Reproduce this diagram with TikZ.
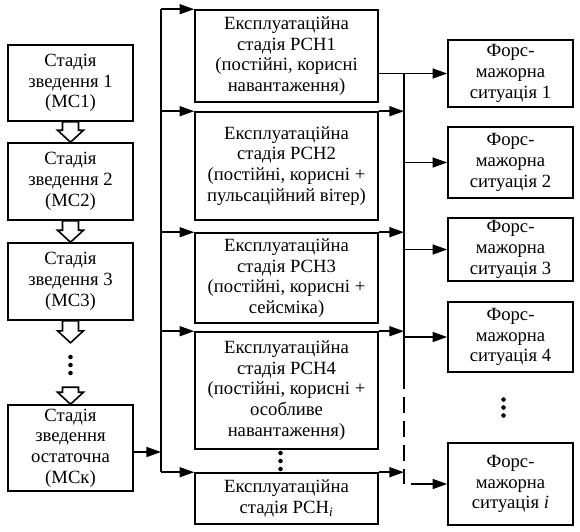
\documentclass[tikz,border=0pt]{standalone}
\usepackage{fontspec}
\setmainfont{Liberation Serif}
\usepackage{tikz}
\usetikzlibrary{arrows.meta,positioning,calc}

\begin{document}
\begin{tikzpicture}[
  x=0.75pt, y=-0.75pt,
  box/.style={rectangle, draw, line width=1.2pt, align=center, inner sep=1pt, font=\fontsize{14}{15.6}\selectfont},
  stage/.style={box, minimum width=93.75pt},
  load/.style={box, minimum width=137.25pt},
  force/.style={box, minimum width=93.75pt},
  arrow/.style={-{Triangle[length=11pt,width=7.5pt]}, line width=1.2pt},
  bus/.style={line width=1.2pt},
  hollow/.style={draw, line width=1.2pt, fill=white, line join=miter},
]
  \useasboundingbox (0,0) rectangle (580,531);
  % construction stages
  \node[stage, minimum height=57pt] (mc1) at (70.5,83) {Стадія\\зведення 1\\(МС1)};
  \node[stage, minimum height=57.75pt] (mc2) at (70.5,181.5) {Стадія\\зведення 2\\(МС2)};
  \node[stage, minimum height=57.75pt] (mc3) at (70.5,281.5) {Стадія\\зведення 3\\(МС3)};
  \node[stage, minimum height=64.5pt] (mck) at (70.5,448) {Стадія\\зведення\\остаточна\\(МСк)};
  % service stages
  \node[load, minimum height=69pt] (rch1) at (286.5,56) {Експлуатаційна\\стадія РСН1\\(постійні, корисні\\навантаження)};
  \node[load, minimum height=81pt] (rch2) at (286.5,166) {Експлуатаційна\\стадія РСН2\\(постійні, корисні +\\пульсаційний вітер)};
  \node[load, minimum height=67.5pt] (rch3) at (286.5,278) {Експлуатаційна\\стадія РСН3\\(постійні, корисні +\\сейсміка)};
  \node[load, minimum height=87.75pt] (rch4) at (286.5,390.5) {Експлуатаційна\\стадія РСН4\\(постійні, корисні +\\особливе\\навантаження)};
  \node[load, minimum height=38.25pt] (rchi) at (286.5,498.5) {Експлуатаційна\\стадія РСН\textsubscript{\textit{i}}};
  % force majeure
  \node[force, minimum height=50.25pt] (f1) at (510.5,73.5) {Форс-\\мажорна\\ситуація 1};
  \node[force, minimum height=53.25pt] (f2) at (510.5,162.5) {Форс-\\мажорна\\ситуація 2};
  \node[force, minimum height=47.25pt] (f3) at (510.5,249.5) {Форс-\\мажорна\\ситуація 3};
  \node[force, minimum height=52.5pt] (f4) at (510.5,337) {Форс-\\мажорна\\ситуація 4};
  \node[force, minimum height=61.5pt] (fi) at (510.5,484) {Форс-\\мажорна\\ситуація \textit{i}};

  \coordinate (gapa) at ($(mc3.south)+(0,22)$);
  \coordinate (gapb) at ($(mck.north)+(0,-17)$);
  \foreach \a/\b in {mc1.south/mc2.north, mc2.south/mc3.north, mc3.south/gapa, gapb/mck.north}
    \draw[hollow] ($(\a)+(-8,0)$) -- ($(\b)+(-8,-12)$) -- ($(\b)+(-13,-12)$) -- (\b)
      -- ($(\b)+(13,-12)$) -- ($(\b)+(8,-12)$) -- ($(\a)+(8,0)$) -- cycle;

  % dots
  \coordinate (dl) at ($(gapa)!0.5!(gapb)$);
  \coordinate (dm) at ($(rch4.south)!0.5!(rchi.north)+(-6,0)$);
  \coordinate (dr) at ($(f4.south)!0.5!(fi.north)+(-7,0)$);
  \foreach \c in {dl,dm,dr}
    \foreach \k in {-8,0,8}
      \fill ($(\c)+(0,\k)$) circle (1.7pt);

  % left bus
  \coordinate (lbus) at (161,0);
  \coordinate (mckout) at ($(mck.east)+(0,4)$);
  \draw[bus] (lbus |- rch1.north west) -- (lbus |- rchi.north west);
  \draw[arrow] (mckout) -- (mckout -| lbus);
  \foreach \n in {rch1,rch2,rch3,rch4,rchi}
    \draw[arrow] (lbus |- \n.north west) -- (\n.north west);

  % right bus
  \coordinate (rbus) at (404,0);
  \draw[bus] (rbus |- f1.west) -- (rbus |- f4.south);
  \draw[bus, dash pattern=on 12pt off 6pt] (rbus |- f4.south) -- (rbus |- fi.west);
  \draw[arrow] (rch1.east |- f1.west) -- (f1.west);
  \foreach \n in {rch2,rch3,rch4,rchi}
    \draw[arrow] (\n.north east) -- (\n.north east -| rbus);
  \foreach \n in {f2,f3,f4}
    \draw[arrow] (rbus |- \n.west) -- (\n.west);
  \coordinate (fistart) at ($(rbus |- fi.west)+(7,0)$);
  \draw[arrow] (fistart) -- (fi.west);
\end{tikzpicture}
\end{document}
